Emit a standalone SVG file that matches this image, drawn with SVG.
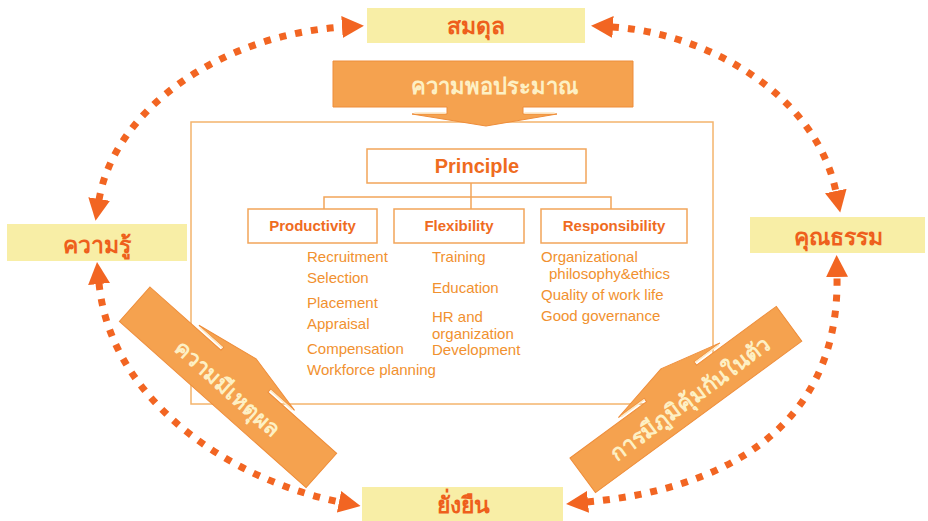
<svg xmlns="http://www.w3.org/2000/svg" width="928" height="521" viewBox="0 0 928 521">
  <defs>
    <style>
      .thai { font-family: "Noto Sans", "DejaVu Sans", sans-serif; font-weight: bold; }
      .label-box { fill: #f8eea6; }
      .label-text { fill: #ee5f1c; font-size: 23px; text-anchor: middle; }
      .banner { fill: #f5a24f; stroke: #ee8d3a; stroke-width: 1; }
      .banner-text { fill: #fdf0c4; font-size: 22px; text-anchor: middle; }
      .slit { stroke: #fde8c4; stroke-width: 1.6; stroke-linecap: round; }
      .frame { fill: #ffffff; stroke: #f4b46c; stroke-width: 1.5; }
      .box { fill: #ffffff; stroke: #f2a55a; stroke-width: 1.5; }
      .tree-line { fill: none; stroke: #f2a55a; stroke-width: 1.5; }
      .title { font-family: "Liberation Sans", Arial, sans-serif; font-weight: bold; fill: #ef6c1f; text-anchor: middle; }
      .item { font-family: "Liberation Sans", Arial, sans-serif; font-size: 15px; fill: #f1912f; }
      .cycle { fill: none; stroke: #f26522; stroke-width: 7; stroke-dasharray: 7 9; marker-start: url(#head); marker-end: url(#head); }
    </style>
    <marker id="head" viewBox="0 0 22 22" refX="1" refY="11" markerWidth="22" markerHeight="22" markerUnits="userSpaceOnUse" orient="auto-start-reverse">
      <path d="M0,0 L22,11 L0,22 Z" fill="#f26522"/>
    </marker>
  </defs>

  <rect width="928" height="521" fill="#ffffff"/>

  <!-- central frame holding the principle tree -->
  <g id="frame">
    <rect class="frame" x="191" y="122" width="522" height="282"/>
  </g>

  <!-- tree branches -->
  <g id="tree-connectors">
    <path class="tree-line" d="M471,183 V197 M324,209 V197 H611 V209 M471,197 V209"/>
  </g>

  <g id="principle">
    <rect class="box" x="367" y="149" width="219" height="34"/>
    <text class="title" x="477" y="173" font-size="20">Principle</text>
  </g>

  <g id="productivity">
    <rect class="box" x="248" y="209" width="129" height="34"/>
    <text class="title" x="312.5" y="230.5" font-size="15">Productivity</text>
    <text class="item" x="307" y="262">Recruitment</text>
    <text class="item" x="307" y="283">Selection</text>
    <text class="item" x="307" y="308">Placement</text>
    <text class="item" x="307" y="329">Appraisal</text>
    <text class="item" x="307" y="354">Compensation</text>
    <text class="item" x="307" y="375">Workforce planning</text>
  </g>

  <g id="flexibility">
    <rect class="box" x="394" y="209" width="130" height="34"/>
    <text class="title" x="459" y="230.5" font-size="15">Flexibility</text>
    <text class="item" x="432" y="262">Training</text>
    <text class="item" x="432" y="293">Education</text>
    <text class="item" x="432" y="322">HR and</text>
    <text class="item" x="432" y="338.5">organization</text>
    <text class="item" x="432" y="355">Development</text>
  </g>

  <g id="responsibility">
    <rect class="box" x="541" y="209" width="146" height="34"/>
    <text class="title" x="614" y="230.5" font-size="15">Responsibility</text>
    <text class="item" x="541" y="262">Organizational</text>
    <text class="item" x="549" y="279">philosophy&amp;ethics</text>
    <text class="item" x="541" y="300">Quality of work life</text>
    <text class="item" x="541" y="321">Good governance</text>
  </g>

  <!-- dotted two-way cycle between the four outer labels -->
  <g id="cycle-connectors">
    <path class="cycle" d="M99,200 C114,110 220,35 343,27"/>
    <path class="cycle" d="M612,27 C700,32 815,90 836,192"/>
    <path class="cycle" d="M99,283 C110,400 230,480 340,502"/>
    <path class="cycle" d="M587,502 C720,490 840,430 837,276"/>
  </g>

  <g id="balance">
    <rect class="label-box" x="367" y="8" width="218" height="35"/>
    <text class="thai label-text" x="476" y="34">สมดุล</text>
  </g>

  <g id="knowledge">
    <rect class="label-box" x="7" y="224" width="180" height="37"/>
    <text class="thai label-text" x="97" y="253">ความรู้</text>
  </g>

  <g id="morality">
    <rect class="label-box" x="750" y="217" width="175" height="36"/>
    <text class="thai label-text" x="838" y="245">คุณธรรม</text>
  </g>

  <g id="sustainability">
    <rect class="label-box" x="362" y="487" width="201" height="34"/>
    <text class="thai label-text" x="463" y="513">ยั่งยืน</text>
  </g>

  <!-- callout banners pointing into the frame -->
  <g id="moderation">
    <path class="banner" d="M333,61 H633 V107 H523 V114 H557 L486,126 L412,114 H447 V107 H333 Z"/>
    <line class="slit" x1="415" y1="113" x2="445" y2="113"/>
    <line class="slit" x1="525" y1="113" x2="554" y2="113"/>
    <text class="thai banner-text" x="494" y="94" font-size="25">ความพอประมาณ</text>
  </g>

  <g id="reasonableness" transform="translate(150,287) rotate(41.7)">
    <path class="banner" d="M0,0 H95 V-4 H62 L127,-17 L190,-4 H158 V0 H250 V46 H0 Z"/>
    <line class="slit" x1="65" y1="-3" x2="94" y2="-3"/>
    <line class="slit" x1="159" y1="-3" x2="187" y2="-3"/>
    <text class="thai banner-text" x="125" y="32" font-size="21">ความมีเหตุผล</text>
  </g>

  <g id="self-immunity" transform="translate(570,458) rotate(-36.3)">
    <path class="banner" d="M0,0 H95 V-4 H63 L126,-18 L189,-4 H157 V0 H256 V43 H0 Z"/>
    <line class="slit" x1="66" y1="-3" x2="94" y2="-3"/>
    <line class="slit" x1="158" y1="-3" x2="186" y2="-3"/>
    <text class="thai banner-text" x="132" y="31" font-size="22">การมีภูมิคุ้มกันในตัว</text>
  </g>
</svg>
